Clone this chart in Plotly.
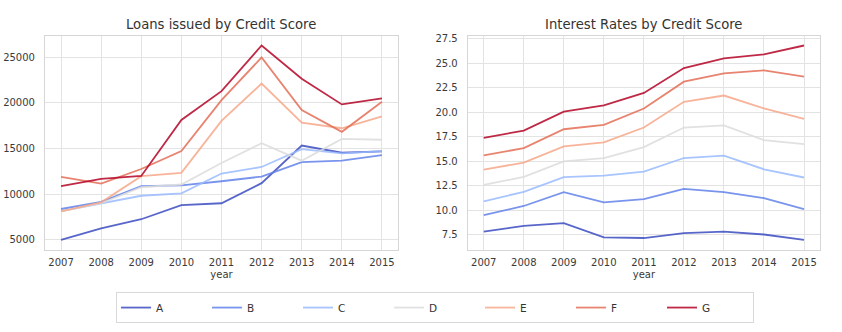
import plotly.graph_objects as go

years = [2007, 2008, 2009, 2010, 2011, 2012, 2013, 2014, 2015]
grades = ["A", "B", "C", "D", "E", "F", "G"]

loans_A = [5000, 6250, 7250, 8800, 9000, 11200, 15320, 14530, 14670]
loans_B = [8370, 9160, 10870, 10950, 11410, 11920, 13510, 13660, 14270]
loans_C = [8150, 8950, 9820, 10080, 12250, 12970, 14920, 14460, 14710]
loans_D = [8100, 9000, 10750, 11050, 13400, 15580, 13660, 16050, 15950]
loans_E = [8100, 9100, 11960, 12320, 18010, 22100, 17830, 17210, 18510]
loans_F = [11880, 11160, 12750, 14710, 20290, 24970, 19210, 16820, 20110]
loans_G = [10870, 11660, 11990, 18120, 21270, 26270, 22640, 19820, 20470]

rate_A = [7.83, 8.41, 8.69, 7.23, 7.17, 7.67, 7.83, 7.53, 6.99]
rate_B = [9.50, 10.44, 11.86, 10.81, 11.15, 12.19, 11.86, 11.25, 10.11]
rate_C = [10.92, 11.89, 13.38, 13.55, 13.96, 15.34, 15.58, 14.19, 13.35]
rate_D = [12.60, 13.41, 15.00, 15.34, 16.45, 18.45, 18.68, 17.16, 16.76]
rate_E = [14.16, 14.87, 16.52, 16.93, 18.45, 21.08, 21.72, 20.40, 19.33]
rate_F = [15.61, 16.35, 18.28, 18.72, 20.40, 23.14, 23.99, 24.30, 23.65]
rate_G = [17.40, 18.14, 20.07, 20.71, 21.99, 24.53, 25.51, 25.92, 26.83]

loans = [loans_A, loans_B, loans_C, loans_D, loans_E, loans_F, loans_G]
rates = [rate_A, rate_B, rate_C, rate_D, rate_E, rate_F, rate_G]

colors = ["#3b4cc0", "#6282ea", "#9abbff", "#dddcdc", "#f7a889", "#e46e56", "#b40426"]

loan_ticks = [5000, 10000, 15000, 20000, 25000]
rate_ticks = [7.5, 10.0, 12.5, 15.0, 17.5, 20.0, 22.5, 25.0, 27.5]


def padded(vals, frac=0.05):
    lo, hi = min(vals), max(vals)
    d = (hi - lo) * frac
    return [lo - d, hi + d]


fig = go.Figure()
for g, c, lv, rv in zip(grades, colors, loans, rates):
    fig.add_trace(go.Scatter(x=years, y=lv, mode="lines", name=g, legendgroup=g,
                             line=dict(color=c, width=1.8), opacity=0.85,
                             xaxis="x", yaxis="y"))
    fig.add_trace(go.Scatter(x=years, y=rv, mode="lines", name=g, legendgroup=g,
                             showlegend=False,
                             line=dict(color=c, width=1.8), opacity=0.85,
                             xaxis="x2", yaxis="y2"))

all_loans = [v for s in loans for v in s]
all_rates = [v for s in rates for v in s]

font = dict(family="DejaVu Sans", color="#3a3a3a", size=10)
grid = "#e3e3e3"
edge = "#d6d6d6"

common_x = dict(tickmode="array", tickvals=years, ticktext=[str(y) for y in years],
                range=padded(years), showgrid=True, gridcolor=grid, gridwidth=1,
                showline=True, linecolor=edge, mirror=True, zeroline=False,
                ticks="", ticklabelstandoff=3,
                title=dict(text="year", font=dict(size=10, color="#3a3a3a"), standoff=4),
                tickfont=dict(size=10, color="#3a3a3a"))
common_y = dict(showgrid=True, gridcolor=grid, gridwidth=1, showline=True,
                linecolor=edge, mirror=True, zeroline=False, ticks="",
                ticklabelstandoff=7, tickfont=dict(size=10, color="#3a3a3a"))

fig.update_layout(
    width=842, height=332,
    margin=dict(l=0, r=0, t=0, b=0),
    paper_bgcolor="white", plot_bgcolor="white",
    font=font,
    xaxis=dict(domain=[0.0534, 0.4727], anchor="y", **common_x),
    yaxis=dict(domain=[0.25, 0.8976], anchor="x", range=padded(all_loans),
               tickmode="array", tickvals=loan_ticks,
               ticktext=[str(t) for t in loan_ticks], **common_y),
    xaxis2=dict(domain=[0.5555, 0.9739], anchor="y2", **common_x),
    yaxis2=dict(domain=[0.25, 0.8976], anchor="x2", range=padded(all_rates),
                tickmode="array", tickvals=rate_ticks,
                ticktext=[f"{t:.1f}" for t in rate_ticks], **common_y),
    annotations=[
        dict(text="Loans issued by Credit Score", x=(0.0534 + 0.4727) / 2, y=0.931,
             xref="paper", yref="paper", xanchor="center", yanchor="middle",
             showarrow=False, font=dict(size=13.2, color="#333333")),
        dict(text="Interest Rates by Credit Score", x=(0.5555 + 0.9739) / 2, y=0.931,
             xref="paper", yref="paper", xanchor="center", yanchor="middle",
             showarrow=False, font=dict(size=13.2, color="#333333")),
    ],
    legend=dict(orientation="h", x=0.1378, xanchor="left", y=0.121, yanchor="top",
                bordercolor="#d9d9d9", borderwidth=1, bgcolor="white",
                font=dict(size=10.5, color="#333333"),
                entrywidth=46, entrywidthmode="pixels", itemwidth=30),
)

fig.write_html("out.html")
